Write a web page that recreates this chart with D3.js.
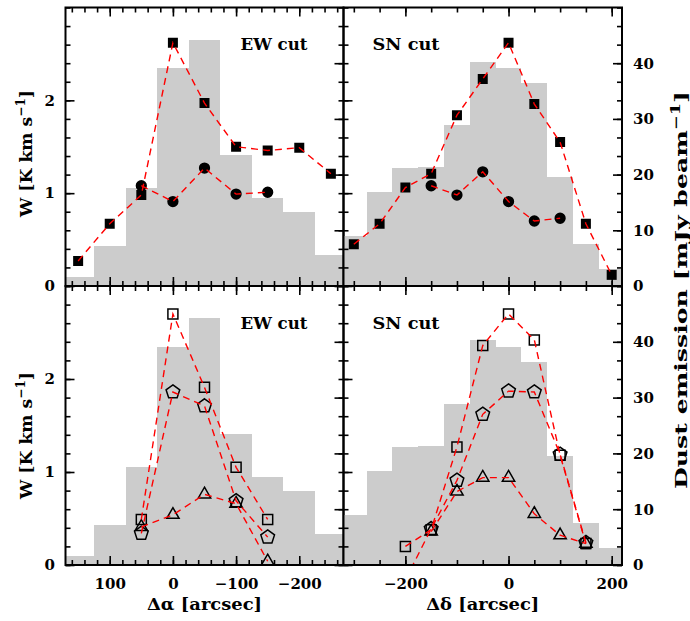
<!DOCTYPE html>
<html>
<head>
<meta charset="utf-8">
<script src="https://cdn.jsdelivr.net/npm/d3@7"></script>
<style>
body { margin: 0; background: #fff; }
text { font-family: "DejaVu Serif", serif; font-weight: bold; fill: #000; }
</style>
</head>
<body>
<svg id="fig" width="690" height="621"></svg>
<script>
// dust emission histograms (mJy/beam), 50" bins
var ewHistX = [150, 100, 50, 0, -50, -100, -150, -200, -250];
var ewHistDust = [1.7, 7.1, 17.6, 39.1, 44.2, 23.5, 15.8, 13.2, 5.5];
var snHistX = [-300, -250, -200, -150, -100, -50, 0, 50, 100, 150, 200];
var snHistDust = [9.0, 16.8, 21.1, 21.4, 28.9, 40.3, 39.1, 36.4, 19.5, 7.5, 3.0];

// top row: filled squares and circles (W, K km/s)
var ewTopX = [150, 100, 50, 0, -50, -100, -150, -200, -250];
var ewTopSquares = [0.27, 0.67, 0.98, 2.62, 1.97, 1.50, 1.46, 1.49, 1.21];
var ewTopCircX = [50, 0, -50, -100, -150];
var ewTopCircles = [1.08, 0.91, 1.27, 0.99, 1.01];
var snTopX = [-300, -250, -200, -150, -100, -50, 0, 50, 100, 150, 200];
var snTopSquares = [0.45, 0.67, 1.06, 1.21, 1.84, 2.23, 2.62, 1.96, 1.55, 0.67, 0.12];
var snTopCircX = [-150, -100, -50, 0, 50, 100];
var snTopCircles = [1.08, 0.98, 1.23, 0.91, 0.70, 0.73];

// bottom row: open squares, pentagons, triangles
var ewBotX = [50, 0, -50, -100, -150];
var ewBotSquares = [0.49, 2.70, 1.91, 1.05, 0.49];
var ewBotPentagons = [0.34, 1.86, 1.71, 0.69, 0.30];
var ewBotTriangles = [0.41, 0.54, 0.76, 0.66, 0.04];
var snBotX = [-200, -150, -100, -50, 0, 50, 100, 150];
var snBotSquares = [0.20, 0.38, 1.27, 2.36, 2.70, 2.42, 1.18, 0.23];
var snBotPentagons = [-0.16, 0.39, 0.91, 1.62, 1.87, 1.86, 1.19, 0.24];
var snBotTriangles = [null, 0.36, 0.79, 0.94, 0.94, 0.55, 0.32, 0.23];

// tick values
var ewMinor = d3.range(-260, 170, 20);
var ewMajor = [100, 0, -100, -200];
var snMinor = d3.range(-300, 220, 50);
var snMajor = [-200, 0, 200];
var wMinor = d3.range(0, 3.01, 0.2);
var wMajor = [0, 1, 2];
var dustMinor = d3.range(0, 50.1, 10 / 3);
var dustMajor = [0, 10, 20, 30, 40];

var svg = d3.select("#fig");

var colX = [65.5, 343.5, 622];
var rowY = [7.5, 286, 565];

var xEW = d3.scaleLinear().domain([170, -270]).range([colX[0], colX[1]]);
var xSN = d3.scaleLinear().domain([-320, 220]).range([colX[1], colX[2]]);

var fmt = d3.format("d");

function pentagon(r) {
  var pts = d3.range(5).map(function(i) {
    var a = -Math.PI / 2 + i * 2 * Math.PI / 5;
    return [r * Math.cos(a), r * Math.sin(a)];
  });
  return "M" + pts.join("L") + "Z";
}

var shapes = {
  fsquare: { d: d3.symbol(d3.symbolSquare, 100)(), fill: "#000", stroke: "none" },
  circle: { d: d3.symbol(d3.symbolCircle, 100)(), fill: "#000", stroke: "none" },
  osquare: { d: d3.symbol(d3.symbolSquare, 100)(), fill: "none", stroke: "#000" },
  pentagon: { d: pentagon(7.2), fill: "none", stroke: "#000" },
  triangle: { d: d3.symbol(d3.symbolTriangle, 66)(), fill: "none", stroke: "#000" }
};

function addTicks(g, axisGen, scale, vals, len, labels, pad, tr) {
  var a = g.append("g")
    .attr("transform", tr)
    .call(axisGen(scale).tickValues(vals).tickSize(-len).tickPadding(pad)
      .tickFormat(labels ? fmt : ""));
  a.select(".domain").remove();
  a.selectAll("line").attr("stroke", "#000").attr("stroke-width", 1.6);
  a.attr("font-family", null).attr("font-size", 15);
  return a;
}

function drawPanel(p) {
  var x0 = colX[p.col], x1 = colX[p.col + 1];
  var y0 = rowY[p.row], y1 = rowY[p.row + 1];
  var x = p.x;
  var y = d3.scaleLinear().domain([0, 3]).range([y1, y0]);
  var yDust = d3.scaleLinear().domain([0, 50]).range([y1, y0]);
  var id = "clip" + p.row + p.col;

  svg.append("clipPath").attr("id", id)
    .append("rect").attr("x", x0).attr("y", y0).attr("width", x1 - x0).attr("height", y1 - y0);

  var body = svg.append("g").attr("clip-path", "url(#" + id + ")");

  // dust histogram
  body.selectAll("rect.bin")
    .data(d3.zip(p.histX, p.histDust))
    .enter().append("rect")
      .attr("class", "bin")
      .attr("x", function(d) { return Math.min(x(d[0] - 25), x(d[0] + 25)); })
      .attr("width", function(d) { return Math.abs(x(d[0] + 25) - x(d[0] - 25)); })
      .attr("y", function(d) { return yDust(d[1]); })
      .attr("height", function(d) { return y1 - yDust(d[1]); })
      .attr("fill", "#cccccc")
      .attr("shape-rendering", "crispEdges");

  // markers first, dashed lines on top
  p.series.forEach(function(s) {
    var pts = d3.zip(s.x, s.y).filter(function(d) { return d[1] != null; });
    var sh = shapes[s.shape];
    body.selectAll(null)
      .data(pts)
      .enter().append("path")
        .attr("d", sh.d)
        .attr("transform", function(d) { return "translate(" + x(d[0]) + "," + y(d[1]) + ")"; })
        .attr("fill", sh.fill)
        .attr("stroke", sh.stroke)
        .attr("stroke-width", 1.5);
  });
  p.series.forEach(function(s) {
    var pts = d3.zip(s.x, s.y).filter(function(d) { return d[1] != null; });
    body.append("path")
      .attr("d", d3.line().x(function(d) { return x(d[0]); }).y(function(d) { return y(d[1]); })(pts))
      .attr("fill", "none")
      .attr("stroke", "#ff0000")
      .attr("stroke-width", 1.4)
      .attr("stroke-dasharray", "7,5");
  });

  // ticks on all four sides
  var bottomLab = p.row == 1;
  addTicks(svg, d3.axisBottom, x, p.minor, 5, false, 0, "translate(0," + y1 + ")");
  addTicks(svg, d3.axisBottom, x, p.major, 9, bottomLab, 13, "translate(0," + y1 + ")");
  addTicks(svg, d3.axisTop, x, p.minor, 5, false, 0, "translate(0," + y0 + ")");
  addTicks(svg, d3.axisTop, x, p.major, 9, false, 0, "translate(0," + y0 + ")");

  addTicks(svg, d3.axisLeft, y, wMinor, 5, false, 0, "translate(" + x0 + ",0)");
  addTicks(svg, d3.axisLeft, y, wMajor, 9, p.col == 0, 10.5, "translate(" + x0 + ",0)");
  addTicks(svg, d3.axisRight, yDust, dustMinor, 5, false, 0, "translate(" + x1 + ",0)");
  addTicks(svg, d3.axisRight, yDust, dustMajor, 9, p.col == 1, 11, "translate(" + x1 + ",0)");

  svg.append("rect")
    .attr("x", x0).attr("y", y0)
    .attr("width", x1 - x0).attr("height", y1 - y0)
    .attr("fill", "none").attr("stroke", "#000").attr("stroke-width", 2);

  svg.append("text")
    .attr("x", x0 + p.labelDx)
    .attr("y", y0 + 42.5)
    .attr("font-size", 17)
    .attr("textLength", 67)
    .attr("lengthAdjust", "spacingAndGlyphs")
    .text(p.label);
}

drawPanel({ row: 0, col: 0, x: xEW, histX: ewHistX, histDust: ewHistDust,
  minor: ewMinor, major: ewMajor, label: "EW cut", labelDx: 175,
  series: [
    { x: ewTopX, y: ewTopSquares, shape: "fsquare" },
    { x: ewTopCircX, y: ewTopCircles, shape: "circle" }
  ] });
drawPanel({ row: 0, col: 1, x: xSN, histX: snHistX, histDust: snHistDust,
  minor: snMinor, major: snMajor, label: "SN cut", labelDx: 29,
  series: [
    { x: snTopX, y: snTopSquares, shape: "fsquare" },
    { x: snTopCircX, y: snTopCircles, shape: "circle" }
  ] });
drawPanel({ row: 1, col: 0, x: xEW, histX: ewHistX, histDust: ewHistDust,
  minor: ewMinor, major: ewMajor, label: "EW cut", labelDx: 175,
  series: [
    { x: ewBotX, y: ewBotSquares, shape: "osquare" },
    { x: ewBotX, y: ewBotPentagons, shape: "pentagon" },
    { x: ewBotX, y: ewBotTriangles, shape: "triangle" }
  ] });
drawPanel({ row: 1, col: 1, x: xSN, histX: snHistX, histDust: snHistDust,
  minor: snMinor, major: snMajor, label: "SN cut", labelDx: 29,
  series: [
    { x: snBotX, y: snBotSquares, shape: "osquare" },
    { x: snBotX, y: snBotPentagons, shape: "pentagon" },
    { x: snBotX, y: snBotTriangles, shape: "triangle" }
  ] });

// axis titles
function yTitle(tx, ty, main, len) {
  var t = svg.append("text")
    .attr("transform", "translate(" + tx + "," + ty + ") rotate(-90)")
    .attr("text-anchor", "middle")
    .attr("font-size", 17)
    .attr("textLength", len)
    .attr("lengthAdjust", "spacingAndGlyphs");
  t.append("tspan").text(main);
  t.append("tspan").attr("dy", -7).attr("font-size", 12).text("\u22121");
  t.append("tspan").attr("dy", 7).text("]");
}

yTitle(31.5, 153.5, "W [K km s", 127);
yTitle(31.5, 435.5, "W [K km s", 127);
yTitle(686.5, 290, "Dust emission [mJy beam", 398);

svg.append("text")
  .attr("x", (colX[0] + colX[1]) / 2).attr("y", 609.5)
  .attr("text-anchor", "middle").attr("font-size", 17)
  .attr("textLength", 115).attr("lengthAdjust", "spacingAndGlyphs")
  .text("\u0394\u03b1 [arcsec]");
svg.append("text")
  .attr("x", (colX[1] + colX[2]) / 2).attr("y", 609.5)
  .attr("text-anchor", "middle").attr("font-size", 17)
  .attr("textLength", 113).attr("lengthAdjust", "spacingAndGlyphs")
  .text("\u0394\u03b4 [arcsec]");
</script>
</body>
</html>
